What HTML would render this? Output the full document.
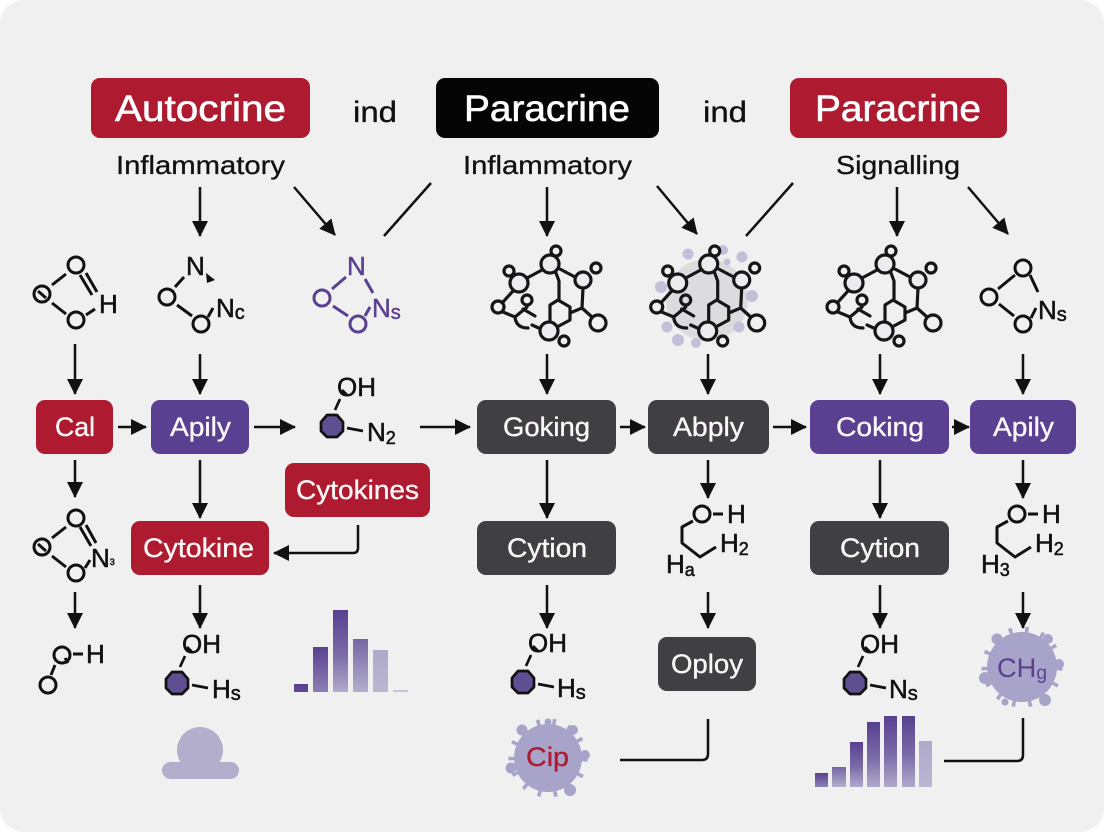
<!DOCTYPE html>
<html><head><meta charset="utf-8"><title>Autocrine and Paracrine Signalling</title>
<style>html,body{margin:0;padding:0;background:#fff;width:1104px;height:832px;overflow:hidden}svg{display:block}
text{font-family:"Liberation Sans",sans-serif;fill:#111}
.w{fill:#fbf7f7;font-size:27px;stroke:#fbf7f7;stroke-width:.35px}
.h{fill:#fff;font-size:37px;stroke:#fff;stroke-width:.6px}
.s{font-size:26px;stroke:#111;stroke-width:.3px}
.m{font-size:26px;stroke:#111;stroke-width:.5px}
.i{font-size:30px;stroke:#111;stroke-width:.35px}
.p{fill:#5a4090;stroke:#5a4090;stroke-width:.45px}
</style></head><body>
<svg width="1104" height="832" viewBox="0 0 1104 832" xmlns="http://www.w3.org/2000/svg">
<defs>
<marker id="a" markerUnits="userSpaceOnUse" markerWidth="17" markerHeight="17" refX="15" refY="8.500" orient="auto"><path d="M0 0.500L16 8.500L0 16.500Z" fill="#111"/></marker>
<linearGradient id="g1" x1="0" y1="0" x2="0" y2="1"><stop offset="0" stop-color="#5a4090"/><stop offset="1" stop-color="#5e4a94"/></linearGradient>
<linearGradient id="g2" x1="0" y1="0" x2="0" y2="1"><stop offset="0" stop-color="#5a4090"/><stop offset="1" stop-color="#8d80b3"/></linearGradient>
<linearGradient id="g3" x1="0" y1="0" x2="0" y2="1"><stop offset="0" stop-color="#58408f"/><stop offset=".55" stop-color="#7a6ba8"/><stop offset="1" stop-color="#b0aacb"/></linearGradient>
<linearGradient id="g4" x1="0" y1="0" x2="0" y2="1"><stop offset="0" stop-color="#7567a3"/><stop offset="1" stop-color="#b3aecd"/></linearGradient>
<linearGradient id="g5" x1="0" y1="0" x2="0" y2="1"><stop offset="0" stop-color="#afa9ca"/><stop offset="1" stop-color="#bbb7d2"/></linearGradient>
<g id="cx" fill="none" stroke="#161616" stroke-width="3.200" stroke-linecap="round" stroke-linejoin="round">
<path d="M542 270L527 278M558 268L575 277M556 273L559 281V300M583 288L582 308L570 313M582 308L592 317M513 291L503 302M503 312L515 317L527 307M523 309L535 316M515 317Q516 328 528 328M532 325L541 329M558 300L570 307V320L557 327M550 322V305L558 300"/>
<g fill="#ecebee"><circle cx="550" cy="264" r="9"/><circle cx="519" cy="283" r="9"/><circle cx="583" cy="280" r="8"/><circle cx="549" cy="331" r="9"/></g>
<circle cx="556" cy="251" r="5"/><circle cx="509" cy="271" r="5"/><circle cx="596" cy="268" r="5"/><circle cx="498" cy="307" r="6"/><circle cx="527" cy="300" r="5"/><circle cx="564" cy="341" r="5"/><circle cx="598" cy="323" r="8"/>
</g>
<g id="hx">
<path d="M-5 12L-10 23M-3 3L2 8M2 41L18 44" stroke="#111" stroke-width="2.700" fill="none"/>
<polygon points="-24,35 -18,28 -8,28 -2,35 -2,44 -8,50 -18,50 -24,44" fill="#5f4f92" stroke="#111" stroke-width="2.700" stroke-linejoin="round"/>
<text x="-8" y="9" class="m">OH</text>
</g>
<g id="zz" fill="none" stroke="#111" stroke-width="3" stroke-linejoin="round">
<circle cx="0" cy="0" r="8"/><path d="M11 0H21M-9 7L-20 13V29L-2 43L14 33"/>
</g>
</defs>

<rect width="1104" height="832" fill="#fff"/>
<rect x="0" y="0" width="1104" height="832" rx="24" fill="#f0f0f1"/>

<rect x="91" y="78" width="219" height="60" rx="9" fill="#ae1a30"/>
<rect x="436" y="78" width="223" height="60" rx="9" fill="#050505"/>
<rect x="790" y="78" width="217" height="60" rx="9" fill="#ae1a30"/>
<text x="115" y="121" class="h" textLength="171" lengthAdjust="spacingAndGlyphs">Autocrine</text>
<text x="464" y="121" class="h" textLength="166" lengthAdjust="spacingAndGlyphs">Paracrine</text>
<text x="815" y="121" class="h" textLength="166" lengthAdjust="spacingAndGlyphs">Paracrine</text>
<text x="353" y="122" class="i" textLength="44" lengthAdjust="spacingAndGlyphs">ind</text>
<text x="703" y="122" class="i" textLength="44" lengthAdjust="spacingAndGlyphs">ind</text>
<text x="116" y="174" class="s" textLength="169" lengthAdjust="spacingAndGlyphs">Inflammatory</text>
<text x="463" y="174" class="s" textLength="169" lengthAdjust="spacingAndGlyphs">Inflammatory</text>
<text x="836" y="174" class="s" textLength="124" lengthAdjust="spacingAndGlyphs">Signalling</text>

<g fill="none" stroke="#111" stroke-width="2.500" stroke-linejoin="round">
<path d="M200 187V236" marker-end="url(#a)"/><path d="M294 187L335 235" marker-end="url(#a)"/><path d="M431 183L384 236"/>
<path d="M547 187V236" marker-end="url(#a)"/><path d="M657 186L697 234" marker-end="url(#a)"/><path d="M793 183L746 236"/>
<path d="M897 187V236" marker-end="url(#a)"/><path d="M968 187L1008 234" marker-end="url(#a)"/>
<path d="M75 344V394" marker-end="url(#a)"/><path d="M200 354V394" marker-end="url(#a)"/><path d="M547 354V394" marker-end="url(#a)"/><path d="M708 354V394" marker-end="url(#a)"/><path d="M880 354V394" marker-end="url(#a)"/><path d="M1023 354V394" marker-end="url(#a)"/>
<path d="M118 427H146" marker-end="url(#a)"/><path d="M254 427H295" marker-end="url(#a)"/><path d="M420 427H470" marker-end="url(#a)"/><path d="M620 427H645" marker-end="url(#a)"/><path d="M773 427H806" marker-end="url(#a)"/><path d="M952 427H969" marker-end="url(#a)"/>
<path d="M75 460V497" marker-end="url(#a)"/><path d="M200 460V518" marker-end="url(#a)"/><path d="M547 460V518" marker-end="url(#a)"/><path d="M708 460V498" marker-end="url(#a)"/><path d="M880 460V518" marker-end="url(#a)"/><path d="M1023 460V498" marker-end="url(#a)"/>
<path d="M358 525V548Q358 553 353 553H274" marker-end="url(#a)"/>
<path d="M75 592V628" marker-end="url(#a)"/><path d="M200 585V628" marker-end="url(#a)"/><path d="M547 585V628" marker-end="url(#a)"/><path d="M708 592V628" marker-end="url(#a)"/><path d="M880 585V628" marker-end="url(#a)"/><path d="M1023 592V628" marker-end="url(#a)"/>
<path d="M708 719V754Q708 760 702 760H620"/><path d="M1023 718V755Q1023 761 1017 761H944"/>
</g>

<!-- boxes -->
<rect x="36" y="400" width="77" height="54" rx="9" fill="#ae1a30"/>
<rect x="151" y="400" width="98" height="54" rx="9" fill="#5a4090"/>
<rect x="285" y="463" width="145" height="54" rx="9" fill="#ae1a30"/>
<rect x="477" y="400" width="139" height="54" rx="9" fill="#404044"/>
<rect x="648" y="400" width="121" height="54" rx="9" fill="#404044"/>
<rect x="810" y="400" width="139" height="54" rx="9" fill="#5a4090"/>
<rect x="970" y="400" width="106" height="54" rx="9" fill="#5a4090"/>
<rect x="131" y="521" width="138" height="54" rx="9" fill="#ae1a30"/>
<rect x="477" y="521" width="139" height="54" rx="9" fill="#404044"/>
<rect x="810" y="521" width="139" height="54" rx="9" fill="#404044"/>
<rect x="658" y="637" width="98" height="54" rx="9" fill="#404044"/>
<text x="55" y="436" class="w" textLength="40" lengthAdjust="spacingAndGlyphs">Cal</text>
<text x="170" y="436" class="w" textLength="61" lengthAdjust="spacingAndGlyphs">Apily</text>
<text x="296" y="499" class="w" textLength="123" lengthAdjust="spacingAndGlyphs">Cytokines</text>
<text x="503" y="436" class="w" textLength="87" lengthAdjust="spacingAndGlyphs">Goking</text>
<text x="673" y="436" class="w" textLength="71" lengthAdjust="spacingAndGlyphs">Abply</text>
<text x="836" y="436" class="w" textLength="88" lengthAdjust="spacingAndGlyphs">Coking</text>
<text x="993" y="436" class="w" textLength="61" lengthAdjust="spacingAndGlyphs">Apily</text>
<text x="143" y="557" class="w" textLength="111" lengthAdjust="spacingAndGlyphs">Cytokine</text>
<text x="507" y="557" class="w" textLength="80" lengthAdjust="spacingAndGlyphs">Cytion</text>
<text x="840" y="557" class="w" textLength="80" lengthAdjust="spacingAndGlyphs">Cytion</text>
<text x="671" y="673" class="w" textLength="72" lengthAdjust="spacingAndGlyphs">Oploy</text>

<!-- top small molecules -->
<g fill="none" stroke="#111" stroke-width="3">
<circle cx="76" cy="265" r="8"/><circle cx="42" cy="294" r="8"/><circle cx="76" cy="320" r="8"/>
<path d="M52 285L66 274M52 303L66 314M80 275L92 295M86 273L97 292M86 315L95 309M38 291L46 298"/>
<circle cx="167" cy="297" r="8"/><circle cx="201" cy="324" r="8"/>
<path d="M175 287L184 277M177 305L192 316M208 317L213 308"/>
<circle cx="76" cy="518" r="8"/><circle cx="42" cy="547" r="8"/><circle cx="76" cy="573" r="8"/>
<path d="M52 538L66 527M52 556L66 567M80 527L91 546M86 525L96 543M85 568L90 560M38 544L46 551"/>
<circle cx="62" cy="655" r="8"/><circle cx="48" cy="685" r="8"/>
<path d="M73 654H83M55 665L51 675M65 658L68 663"/>
<circle cx="1023" cy="268" r="8"/><circle cx="989" cy="297" r="8"/><circle cx="1023" cy="324" r="8"/>
<path d="M998 289L1015 275M1030 275L1038 292M999 304L1014 316M1031 318L1036 308"/>
</g>
<text x="99" y="313" class="m">H</text>
<text x="186" y="275" class="m">N</text><path d="M206 273L215 280L207 283Z" fill="#111"/>
<text x="216" y="317" class="m">N<tspan font-size="20" dy="2">c</tspan></text>
<g fill="none" stroke="#5a4090" stroke-width="3"><circle cx="322" cy="298" r="8"/><circle cx="358" cy="324" r="8"/><path d="M332 289L346 277M365 279L373 293M333 306L348 316M365 316L370 307"/></g>
<text x="347" y="275" class="m p">N</text>
<text x="372" y="317" class="m p">N<tspan font-size="20" dy="2">s</tspan></text>
<text x="1038" y="319" class="m">N<tspan font-size="20" dy="2">s</tspan></text>
<text x="91" y="567" class="m">N<tspan font-size="9" dy="-2">3</tspan></text>
<text x="86" y="663" class="m">H</text>

<!-- complex molecules -->
<use href="#cx"/>
<circle cx="707" cy="300" r="41" fill="#dcdbde"/>
<g fill="#c2c0d9"><circle cx="688" cy="254" r="5.500"/><circle cx="723" cy="250" r="5"/><circle cx="742" cy="257" r="5.500"/><circle cx="727" cy="262" r="3.500"/><circle cx="661" cy="287" r="6"/><circle cx="752" cy="296" r="6"/><circle cx="667" cy="327" r="5.500"/><circle cx="739" cy="327" r="5.500"/><circle cx="678" cy="340" r="6"/><circle cx="696" cy="343" r="5"/></g>
<use href="#cx" x="158.700"/>
<use href="#cx" x="335"/>

<!-- hex molecules -->
<use href="#hx" x="345" y="387"/>
<text x="367" y="441" class="m">N<tspan font-size="18" dy="3">2</tspan></text>
<use href="#hx" x="190" y="644"/>
<text x="212" y="698" class="m">H<tspan font-size="20" dy="2">s</tspan></text>
<use href="#hx" x="536" y="643"/>
<text x="557" y="697" class="m">H<tspan font-size="20" dy="2">s</tspan></text>
<use href="#hx" x="868" y="644"/>
<text x="889" y="698" class="m">N<tspan font-size="20" dy="2">s</tspan></text>

<!-- zigzag molecules -->
<use href="#zz" x="702" y="514"/>
<text x="727" y="523" class="m">H</text>
<text x="720" y="552" class="m">H<tspan font-size="18" dy="3">2</tspan></text>
<text x="666" y="573" class="m">H<tspan font-size="18" dy="3">a</tspan></text>
<use href="#zz" x="1017" y="514"/>
<text x="1042" y="523" class="m">H</text>
<text x="1035" y="552" class="m">H<tspan font-size="18" dy="3">2</tspan></text>
<text x="981" y="573" class="m">H<tspan font-size="18" dy="3">3</tspan></text>

<!-- bar charts -->
<rect x="294" y="684" width="14" height="8" fill="url(#g1)"/>
<rect x="313" y="647" width="15" height="45" fill="url(#g2)"/>
<rect x="333" y="610" width="15" height="82" fill="url(#g3)"/>
<rect x="353" y="639" width="15" height="53" fill="url(#g4)"/>
<rect x="373" y="650" width="15" height="42" fill="url(#g5)"/>
<rect x="393" y="690" width="15" height="2" fill="#c6c4d6"/>
<rect x="815" y="773" width="13" height="14" fill="url(#g2)"/>
<rect x="832" y="767" width="14" height="20" fill="url(#g4)"/>
<rect x="850" y="742" width="13" height="45" fill="url(#g3)"/>
<rect x="867" y="722" width="13" height="65" fill="url(#g3)"/>
<rect x="884" y="716" width="13" height="71" fill="url(#g3)"/>
<rect x="902" y="716" width="13" height="71" fill="url(#g3)"/>
<rect x="919" y="741" width="13" height="46" fill="url(#g5)"/>

<!-- blob -->
<g fill="#b2aecb"><circle cx="200" cy="750" r="23"/><rect x="162" y="762" width="77" height="17" rx="8.500"/></g>

<!-- virus 1 -->
<g fill="#a8a3c9">
<circle cx="548" cy="758" r="34"/>
<circle cx="548" cy="758" r="36" fill="none" stroke="#a8a3c9" stroke-width="7" stroke-dasharray="3.500 12.300"/>
<circle cx="585" cy="755" r="5"/><circle cx="511" cy="768" r="5.500"/><circle cx="522" cy="730" r="5.500"/><circle cx="573" cy="730" r="5"/><circle cx="570" cy="790" r="6"/><circle cx="548" cy="722" r="3.500"/>
</g>
<text x="526" y="766" font-size="27" class="w" style="fill:#ae1a30;stroke:#ae1a30" textLength="43" lengthAdjust="spacingAndGlyphs">Cip</text>

<!-- virus 2 -->
<g fill="#a8a3c9">
<circle cx="1022" cy="667" r="35"/>
<circle cx="1022" cy="667" r="37" fill="none" stroke="#a8a3c9" stroke-width="7" stroke-dasharray="3.500 12.600"/>
<circle cx="1059" cy="664" r="5"/><circle cx="985" cy="678" r="6"/><circle cx="997" cy="639" r="5.500"/><circle cx="1048" cy="639" r="5"/><circle cx="1045" cy="700" r="6"/><circle cx="1005" cy="702" r="3.500"/>
</g>
<text x="997" y="677" font-size="27" style="fill:#5a4090" textLength="50" lengthAdjust="spacingAndGlyphs">CH<tspan font-size="19" dy="2">g</tspan></text>
</svg>
</body></html>
